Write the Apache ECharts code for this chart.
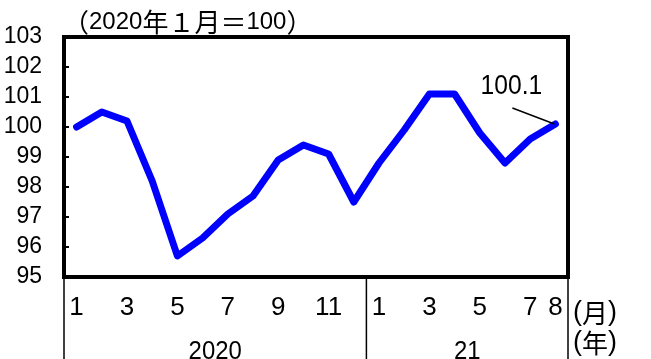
<!DOCTYPE html>
<html>
<head>
<meta charset="utf-8">
<script src="https://cdn.jsdelivr.net/npm/echarts@6/dist/echarts.min.js"></script>
<style>
  html, body { margin: 0; padding: 0; background: #fff; }
  #chart { width: 651px; height: 359px; }
</style>
</head>
<body>
<div id="chart"></div>
<script>
// Monthly index, 2020-01 = 100
const months = ['1','2','3','4','5','6','7','8','9','10','11','12',
                '1','2','3','4','5','6','7','8'];
const years = ['2020', '21'];
const yearSpans = [12, 8];
const indexValues = [100.0, 100.5, 100.2, 98.2, 95.7, 96.3, 97.1, 97.7, 98.9, 99.4, 99.1, 97.5,
                     98.8, 99.9, 101.1, 101.1, 99.8, 98.8, 99.6, 100.1];
const yTicks = { min: 95, max: 103, step: 1 };
const baseNote = ['（', '2020', '年１月＝', '100', '）'];
const monthUnit = ['(', '月', ')'];
const yearUnit = ['(', '年', ')'];

const NUM = '"Liberation Sans", Arial, sans-serif';
const CJK = '"Noto Sans CJK JP", sans-serif';
const lastIdx = indexValues.length - 1;

const chart = echarts.init(document.getElementById('chart'), null, { renderer: 'canvas' });

chart.setOption({
  animation: false,
  backgroundColor: '#fff',
  textStyle: { fontFamily: NUM, color: '#000' },
  grid: {
    left: 64, right: 83, top: 37, bottom: 82,
    outerBoundsMode: 'none',
    containLabel: false,
    show: true, borderColor: '#000', borderWidth: 4, backgroundColor: 'transparent'
  },
  xAxis: {
    type: 'category',
    data: months,
    boundaryGap: true,
    axisLine: { show: false },
    axisTick: { show: false },
    axisLabel: {
      interval: (i) => i % 2 === 0 || i === lastIdx,
      margin: 18,
      fontSize: 26,
      fontFamily: NUM,
      color: '#000'
    },
    splitLine: { show: false }
  },
  yAxis: {
    type: 'value',
    min: yTicks.min, max: yTicks.max, interval: yTicks.step,
    axisLine: { show: false },
    axisTick: { show: true, inside: true, length: 5, lineStyle: { color: '#000', width: 2 } },
    axisLabel: { margin: 22, fontSize: 23, fontFamily: NUM, color: '#000' },
    splitLine: { show: false }
  },
  series: [{
    type: 'line',
    data: indexValues,
    symbol: 'none',
    lineStyle: { color: '#0000ff', width: 7, cap: 'round', join: 'round' },
    z: 3
  }]
});

// Mixed-size caption: Latin digits and CJK glyphs in separate styles
function richText(parts, numSize, cjkSize) {
  return {
    text: parts.map((s) => (/[0-9().]/.test(s[0]) ? '{n|' : '{c|') + s + '}').join(''),
    rich: {
      n: { fontFamily: NUM, fontSize: numSize, fill: '#000' },
      c: { fontFamily: CJK, fontSize: cjkSize, fill: '#000' }
    }
  };
}

// Separators below the frame, year captions, units, value label and leader line
function drawExtras() {
  const p0 = chart.convertToPixel({ gridIndex: 0 }, [0, yTicks.min]);
  const p1 = chart.convertToPixel({ gridIndex: 0 }, [1, yTicks.min]);
  const half = (p1[0] - p0[0]) / 2;
  const axisY = p0[1];
  const gridLeft = p0[0] - half;
  const elems = [];
  let start = 0;
  const bounds = [gridLeft];
  years.forEach((y, k) => {
    const end = start + yearSpans[k];
    const xs = chart.convertToPixel({ gridIndex: 0 }, [start, yTicks.min])[0] - half;
    const xe = chart.convertToPixel({ gridIndex: 0 }, [end - 1, yTicks.min])[0] + half;
    bounds.push(xe);
    elems.push({
      type: 'text', x: (xs + xe) / 2, y: axisY + 62, scaleX: 0.92,
      style: { text: y, font: '26px ' + NUM, fill: '#000', align: 'center', verticalAlign: 'top' }
    });
    start = end;
  });
  bounds.forEach((bx) => {
    elems.push({
      type: 'line', shape: { x1: bx, y1: axisY, x2: bx, y2: 359 },
      style: { stroke: '#000', lineWidth: 1.5 }
    });
  });
  const rightX = bounds[bounds.length - 1];
  elems.push({
    type: 'text', x: rightX + 5, y: axisY + 36,
    style: Object.assign(richText(monthUnit, 27, 26), { verticalAlign: 'middle' })
  });
  elems.push({
    type: 'text', x: rightX + 5, y: axisY + 66,
    style: Object.assign(richText(yearUnit, 27, 26), { verticalAlign: 'middle' })
  });
  elems.push({
    type: 'text', x: gridLeft - 1, y: 22,
    style: Object.assign(richText(baseNote, 24, 26), { verticalAlign: 'middle' })
  });
  const pl = chart.convertToPixel({ gridIndex: 0 }, [lastIdx, indexValues[lastIdx]]);
  elems.push({
    type: 'text', x: pl[0] - 44, y: pl[1] - 38, z: 10, scaleX: 0.88,
    style: {
      text: indexValues[lastIdx].toFixed(1), font: '28px ' + NUM, fill: '#000',
      align: 'center', verticalAlign: 'middle'
    }
  });
  elems.push({
    type: 'line', z: 10,
    shape: { x1: pl[0] - 43, y1: pl[1] - 16, x2: pl[0] - 1, y2: pl[1] },
    style: { stroke: '#000', lineWidth: 1.5 }
  });
  chart.setOption({ graphic: { elements: elems } });
}
drawExtras();
</script>
</body>
</html>
